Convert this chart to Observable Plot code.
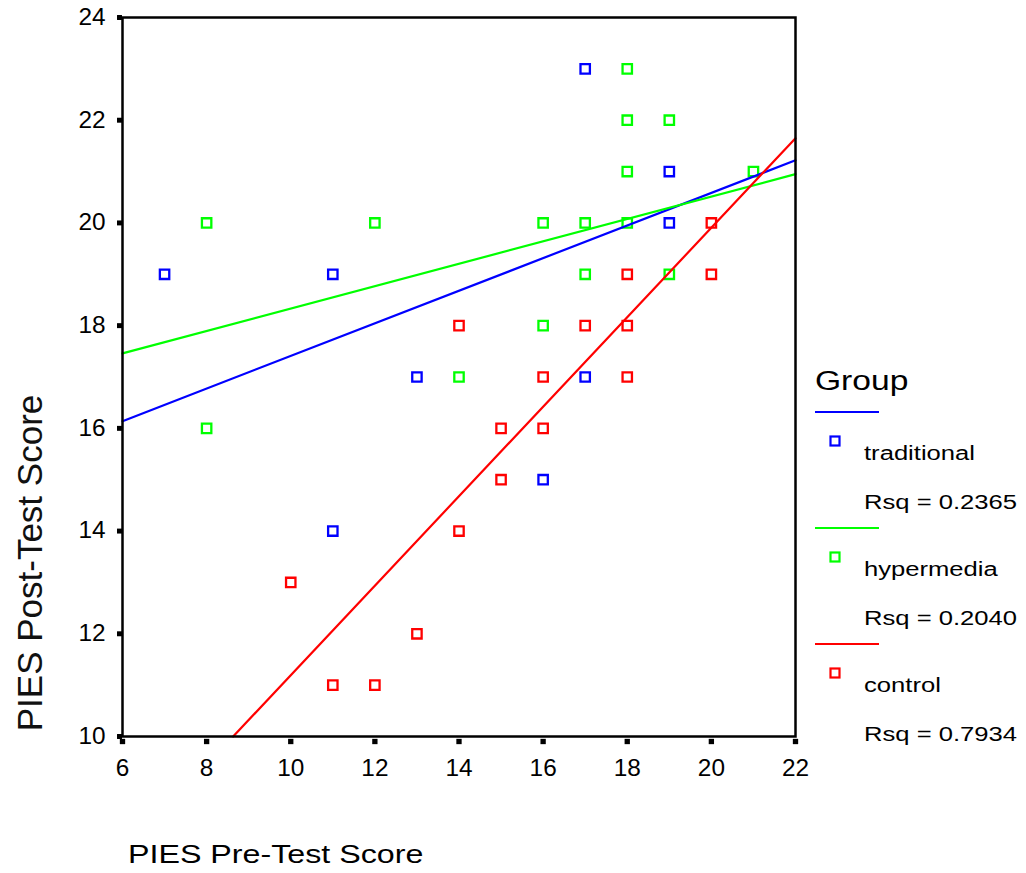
<!DOCTYPE html>
<html><head><meta charset="utf-8">
<script src="https://cdn.jsdelivr.net/npm/d3@7"></script>
<script src="https://cdn.jsdelivr.net/npm/@observablehq/plot@0.6"></script>
<style>body{margin:0;background:#fff}</style>
</head><body><div id="chart"></div>
<script>
const groups = ["traditional", "hypermedia", "control"];
const groupColors = ["#0000ff", "#00ff00", "#ff0000"];
const rsqLabels = ["Rsq = 0.2365", "Rsq = 0.2040", "Rsq = 0.7934"];

const traditionalPre  = [7, 11, 13, 11, 17, 19, 19, 17, 16];
const traditionalPost = [19, 19, 17, 14, 23, 21, 20, 17, 15];
const hypermediaPre   = [8, 12, 8, 18, 18, 19, 18, 21, 16, 17, 18, 17, 19, 16, 14];
const hypermediaPost  = [20, 20, 16, 23, 22, 22, 21, 21, 20, 20, 20, 19, 19, 18, 17];
const controlPre      = [14, 17, 18, 18, 20, 20, 16, 18, 15, 16, 15, 14, 10, 13, 11, 12];
const controlPost     = [18, 18, 18, 19, 20, 19, 17, 17, 16, 16, 15, 14, 13, 12, 11, 11];

// fitted regression line end points
const traditionalFitPre = [6, 22],    traditionalFitPost = [16.14, 21.22];
const hypermediaFitPre  = [6, 22],    hypermediaFitPost  = [17.46, 20.95];
const controlFitPre     = [8.63, 22], controlFitPost     = [10, 21.65];

const xTicks = [6, 8, 10, 12, 14, 16, 18, 20, 22];
const yTicks = [10, 12, 14, 16, 18, 20, 22, 24];
const xTitle = "PIES Pre-Test Score";
const yTitle = "PIES Post-Test Score";
const legendTitle = "Group";

const pts = [];
const addPts = (g, xs, ys) => xs.forEach((x, i) => pts.push({group: g, pre: x, post: ys[i]}));
addPts("traditional", traditionalPre, traditionalPost);
addPts("hypermedia", hypermediaPre, hypermediaPost);
addPts("control", controlPre, controlPost);

const fits = [];
const addFit = (g, xs, ys) => xs.forEach((x, i) => fits.push({group: g, pre: x, post: ys[i]}));
addFit("traditional", traditionalFitPre, traditionalFitPost);
addFit("hypermedia", hypermediaFitPre, hypermediaFitPost);
addFit("control", controlFitPre, controlFitPost);

const FONT = "Liberation Sans, Arial, Helvetica, sans-serif";

const plot = Plot.plot({
  width: 1026, height: 873,
  marginLeft: 122, marginRight: 231, marginTop: 17, marginBottom: 137,
  x: {domain: [6, 22], axis: null},
  y: {domain: [10, 24], axis: null},
  color: {domain: groups, range: groupColors},
  marks: [
    // tick labels
    Plot.text(xTicks, {x: d => d, frameAnchor: "bottom", dy: 32, text: d => String(d), fontSize: 23, lineAnchor: "middle"}),
    Plot.text(yTicks, {y: d => d, frameAnchor: "left", dx: -17, text: d => String(d), fontSize: 23, textAnchor: "end", lineAnchor: "middle"}),
    // tick marks (small black squares outside the frame)
    Plot.dot(xTicks, {x: d => d, frameAnchor: "bottom", dy: 5, symbol: "square", r: 3, fill: "black", stroke: "none"}),
    Plot.dot(yTicks, {y: d => d, frameAnchor: "left", dx: -3, symbol: "square", r: 2.8, fill: "black", stroke: "none"}),
    Plot.dot(pts, {x: "pre", y: "post", stroke: "group", symbol: "square", r: 5.3, strokeWidth: 2.3, fill: "none"}),
    Plot.line(fits, {x: "pre", y: "post", stroke: "group", z: "group", strokeWidth: 2.2}),
    Plot.frame({stroke: "black", strokeWidth: 2.5})
  ]
});

document.getElementById("chart").appendChild(plot);
const svg = d3.select(plot);

// tick label font and slight horizontal stretch to match reference glyphs
svg.selectAll('g[aria-label="text"]').attr("font-family", FONT).attr("font-size", 23);
svg.selectAll('g[aria-label="text"] text').each(function () {
  const t = this.getAttribute("transform") || "";
  this.setAttribute("transform", t + " scale(1.06,1)");
  this.style.fontFamily = FONT;
  this.style.fontSize = "23px";
});

// axis titles
svg.append("text")
  .attr("transform", "translate(42,563) rotate(-90)")
  .attr("text-anchor", "middle")
  .attr("font-family", FONT).attr("font-size", 35)
  .attr("fill", "#111")
  .text(yTitle);
svg.append("text")
  .attr("transform", "translate(128,863) scale(1.24,1)")
  .attr("text-anchor", "start")
  .attr("font-family", FONT).attr("font-size", 26)
  .text(xTitle);

// legend
const lg = svg.append("g").attr("font-family", FONT).attr("text-anchor", "start");
lg.append("text").attr("transform", "translate(815,390) scale(1.2,1)").attr("font-size", 28).text(legendTitle);
groups.forEach((g, i) => {
  const y0 = 412 + i * 116;
  const c = groupColors[i];
  lg.append("line").attr("x1", 815).attr("x2", 879).attr("y1", y0).attr("y2", y0)
    .attr("stroke", c).attr("stroke-width", 2);
  lg.append("rect").attr("x", 835 - 4.5).attr("y", y0 + 29 - 4.5).attr("width", 9).attr("height", 9)
    .attr("fill", "none").attr("stroke", c).attr("stroke-width", 2.2);
  lg.append("text").attr("transform", `translate(864,${y0 + 48}) scale(1.22,1)`).attr("font-size", 21).text(g);
  lg.append("text").attr("transform", `translate(864,${y0 + 97}) scale(1.22,1)`).attr("font-size", 21).text(rsqLabels[i]);
});
</script>
</body></html>
